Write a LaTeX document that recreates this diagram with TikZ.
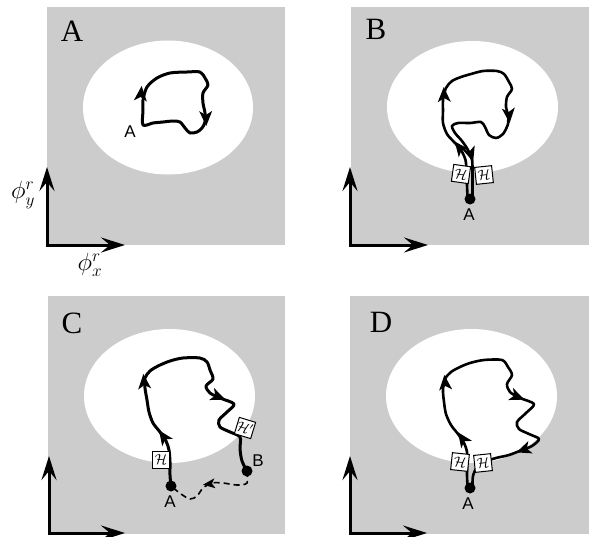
\documentclass[tikz,border=0pt]{standalone}
\usepackage{fontspec}
\newfontfamily\titlefont{Liberation Serif}
\newfontfamily\labfont{Liberation Sans}
\usetikzlibrary{arrows.meta}
\tikzset{
  panel/.style={fill=black!20, draw=none},
  hole/.style={fill=white, draw=none},
  axis/.style={line width=3pt, {Stealth[length=24pt,width=15pt,inset=9pt]}-{Stealth[length=24pt,width=15pt,inset=9pt]}},
  curve/.style={line width=3pt, line join=round, line cap=round},
  strand/.style={line width=2.6pt, line join=round, line cap=round},
  dashline/.style={line width=1.6pt, dash pattern=on 6pt off 4pt},
  hbox/.style={draw, fill=white, line width=1pt, minimum size=17pt, inner sep=0pt, font=\fontsize{14}{14}\selectfont},
  dot/.style={circle, fill=black, inner sep=0pt, minimum size=11pt},
  title/.style={font=\titlefont\fontsize{31}{32}\selectfont},
  lab/.style={font=\labfont\fontsize{17}{18}\selectfont},
  axlab/.style={font=\fontsize{25}{27}\selectfont}
}
\newcommand{\cArr}[3]{\fill[shift={(#1,#2)},rotate=#3] (7,0) -- (-8,6.5) -- (-4,0) -- (-8,-6.5) -- cycle;}
\newcommand{\sArr}[3]{\fill[shift={(#1,#2)},rotate=#3] (6,0) -- (-6,5) -- (-3,0) -- (-6,-5) -- cycle;}
\begin{document}
\begin{tikzpicture}[x=1pt,y=-1pt]
\useasboundingbox (0,0) rectangle (592,536);
% ---------- backgrounds ----------
\fill[panel] (47,7) rectangle (285,245);
\fill[panel] (351,7) rectangle (589,245);
\fill[panel] (48,296) rectangle (285,534);
\fill[panel] (350,296) rectangle (589,534);
\fill[hole] (168,107.5) ellipse [x radius=85, y radius=67];
\fill[hole] (472.5,107) ellipse [x radius=85.5, y radius=66];
\fill[hole] (169.5,396) ellipse [x radius=85.5, y radius=67];
\fill[hole] (471.5,396) ellipse [x radius=85.5, y radius=67];
% ---------- axes ----------
\coordinate (oA) at (47,245);
\coordinate (oB) at (350,245);
\coordinate (oC) at (49,533);
\coordinate (oD) at (350,533);
\draw[axis] (47,167) -- (oA) -- (125,245);
\draw[axis] (350,167) -- (oB) -- (428,245);
\draw[axis] (49,456) -- (oC) -- (125,533);
\draw[axis] (350,456) -- (oD) -- (427,533);
\node[axlab] (phiy) at (23,195) {$\phi_y^r$};
\node[axlab] (phix) at (90,265) {$\phi_x^r$};
% ---------- titles ----------
\node[title] (tA) at (72,31) {A};
\node[title] (tB) at (376,29) {B};
\node[title] (tC) at (72,323) {C};
\node[title] (tD) at (381,322) {D};
% ---------- panel A ----------
\coordinate (pA) at (143,125);
\draw[curve] plot[smooth cycle, tension=0.5] coordinates {(pA) (143,110) (143,100) (147,87) (157,78) (170,73) (187,72) (200,72) (205,78) (208,85) (203,93) (203,103) (205,113) (205,122) (202,128) (197,132) (190,133) (185,128) (180,122) (173,121) (163,122) (153,123)};
\cArr{141}{93}{85}
\cArr{206}{119}{-88}
\node[lab] (lA1) at (130,132) {A};
% ---------- panel B ----------
\node[dot] (dB) at (470,199) {};
\draw[strand] plot[smooth, tension=0.5] coordinates {(467.5,197) (467,185) (466.5,172) (465.5,160) (461,150) (454,142) (447,134) (443,123) (443,110) (443,100) (446,88) (452,81) (461,77) (471,74) (483,71) (497,71) (504,74) (509,82) (512,89) (507,97) (506,107) (508,115) (508,124) (503,134) (496,138) (489,135) (485,127) (481,122) (470,123) (458,123) (452,126) (455,133) (462,141) (468,150) (472,160) (472.5,172) (472.5,185) (472.5,197)};
\cArr{444}{94}{92}
\cArr{509}{116}{-85}
\cArr{459}{147}{128}
\cArr{471}{155}{-72}
\node[hbox, rotate=-8] (hB1) at (461,174) {$\mathcal{H}$};
\node[hbox, rotate=6] (hB2) at (484,175) {$\mathcal{H}$};
\node[lab] (lB1) at (469,215) {A};
% ---------- panel C ----------
\node[dot] (dCa) at (171,486) {};
\node[dot] (dCb) at (247,471) {};
\draw[curve] plot[smooth, tension=0.5] coordinates {(dCa.center) (170,475) (170,462) (169,450) (166,441) (160,432) (153,423) (149,412) (147,400) (145,388) (145,378) (150,371) (158,366) (170,361) (183,358) (200,358) (207,362) (210,370) (213,379) (206,386) (210,393) (220,398) (234,404) (227,412) (219,420) (220,427) (230,432) (240,437) (240,449) (242,461) (dCb.center)};
\cArr{163}{436}{125}
\cArr{144}{381}{95}
\cArr{219}{397}{-22}
\draw[dashline] plot[smooth, tension=0.5] coordinates {(dCb.center) (247,483) (237,485) (223,483) (212,483) (203,488) (197,496) (190,499) (181,494) (dCa.center)};
\sArr{209}{484}{187}
\node[hbox] (hC1) at (161,460) {$\mathcal{H}$};
\node[hbox, rotate=-17] (hC2) at (245,428) {$\mathcal{H}'$};
\node[lab] (lC1) at (170,502) {A};
\node[lab] (lC2) at (258,461) {B};
% ---------- panel D ----------
\node[dot] (dD) at (470,488) {};
\draw[strand] plot[smooth, tension=0.5] coordinates {(467.5,486) (467,475) (467,462) (467,452) (464,443) (458,434) (451,425) (446,414) (444,402) (443,390) (445,379) (451,372) (460,367) (470,363) (484,360) (502,360) (508,367) (512,375) (507,384) (510,392) (520,398) (534,404) (526,413) (517,422) (519,429) (529,434) (539,439) (532,446) (522,450) (509,455) (496,458) (484,462) (477,467) (473,476) (472.5,486)};
\cArr{445}{382}{95}
\cArr{462}{438}{125}
\cArr{518}{397}{-22}
\cArr{523}{450}{200}
\node[hbox, rotate=-6] (hD1) at (460,462) {$\mathcal{H}$};
\node[hbox, rotate=6] (hD2) at (483,463) {$\mathcal{H}$};
\node[lab] (lD1) at (468,504) {A};
\end{tikzpicture}
\end{document}
